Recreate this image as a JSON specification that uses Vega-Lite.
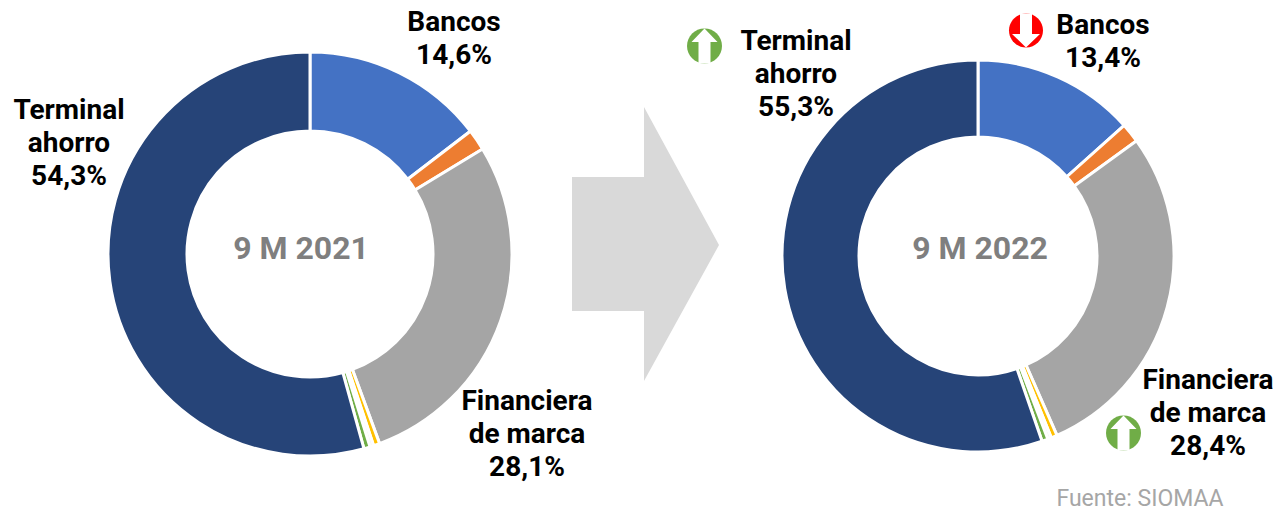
{
"$schema":"https://vega.github.io/schema/vega-lite/v6.json",
"width":1278,"height":511,
"autosize":{"type":"fit","contains":"padding"},
"padding":0,
"background":"white",
"view":{"stroke":null},
"config":{"text":{"font":"Roboto"}},
"datasets":{
"cuotas":[
{"periodo":"9 M 2021","segmento":"Bancos","orden":1,"cuota":14.6},
{"periodo":"9 M 2021","segmento":"Otros 1","orden":2,"cuota":1.7},
{"periodo":"9 M 2021","segmento":"Financiera de marca","orden":3,"cuota":28.1},
{"periodo":"9 M 2021","segmento":"Otros 2","orden":4,"cuota":0.5},
{"periodo":"9 M 2021","segmento":"Otros 3","orden":5,"cuota":0.3},
{"periodo":"9 M 2021","segmento":"Otros 4","orden":6,"cuota":0.5},
{"periodo":"9 M 2021","segmento":"Terminal ahorro","orden":7,"cuota":54.3},
{"periodo":"9 M 2022","segmento":"Bancos","orden":1,"cuota":13.4},
{"periodo":"9 M 2022","segmento":"Otros 1","orden":2,"cuota":1.6},
{"periodo":"9 M 2022","segmento":"Financiera de marca","orden":3,"cuota":28.4},
{"periodo":"9 M 2022","segmento":"Otros 2","orden":4,"cuota":0.5},
{"periodo":"9 M 2022","segmento":"Otros 3","orden":5,"cuota":0.3},
{"periodo":"9 M 2022","segmento":"Otros 4","orden":6,"cuota":0.5},
{"periodo":"9 M 2022","segmento":"Terminal ahorro","orden":7,"cuota":55.3}
],
"rotulos":[
{"periodo":"9 M 2021","clave":"T21","rotulo":"Terminal\nahorro\n54,3%"},
{"periodo":"9 M 2021","clave":"B21","rotulo":"Bancos\n14,6%"},
{"periodo":"9 M 2021","clave":"F21","rotulo":"Financiera\nde marca\n28,1%"},
{"periodo":"9 M 2022","clave":"T22","rotulo":"Terminal\nahorro\n55,3%"},
{"periodo":"9 M 2022","clave":"B22","rotulo":"Bancos\n13,4%"},
{"periodo":"9 M 2022","clave":"F22","rotulo":"Financiera\nde marca\n28,4%"},
{"periodo":"9 M 2021","clave":"C21","rotulo":"9 M 2021"},
{"periodo":"9 M 2022","clave":"C22","rotulo":"9 M 2022"},
{"periodo":"9 M 2022","clave":"N","rotulo":"Fuente: SIOMAA"}
],
"marcas":[
{"periodo":"flecha","clave":"flecha"},
{"periodo":"9 M 2022","clave":"T"},
{"periodo":"9 M 2022","clave":"B"},
{"periodo":"9 M 2022","clave":"F"}
]
},
"encoding":{
"x":{"field":"periodo","type":"nominal","axis":null,"scale":{"type":"point","domain":["9 M 2021","flecha","9 M 2022"],"range":[310,978],"padding":0}},
"y":{"field":"periodo","type":"nominal","axis":null,"scale":{"type":"point","domain":["9 M 2021","flecha","9 M 2022"],"range":[254,256],"padding":0}}
},
"layer":[
{"data":{"name":"cuotas"},"transform":[{"filter":"datum.periodo==='9 M 2021'"}],
"mark":{"type":"arc","outerRadius":202,"innerRadius":123,"stroke":"white","strokeWidth":3},
"encoding":{"theta":{"field":"cuota","type":"quantitative","stack":true,"scale":{"domain":[0,100]}},"order":{"field":"orden","type":"ordinal"},
"color":{"field":"segmento","type":"nominal","legend":null,"scale":{"domain":["Bancos","Otros 1","Financiera de marca","Otros 2","Otros 3","Otros 4","Terminal ahorro"],"range":["#4472c4","#ed7d31","#a5a5a5","#ffc000","#f4f4f4","#70ad47","#264478"]}}}},
{"data":{"name":"cuotas"},"transform":[{"filter":"datum.periodo==='9 M 2022'"}],
"mark":{"type":"arc","outerRadius":196,"innerRadius":119,"stroke":"white","strokeWidth":3},
"encoding":{"theta":{"field":"cuota","type":"quantitative","stack":true,"scale":{"domain":[0,100]}},"order":{"field":"orden","type":"ordinal"},
"color":{"field":"segmento","type":"nominal","legend":null}}},
{"data":{"name":"marcas"},"transform":[{"filter":"datum.clave==='flecha'"}],
"mark":{"type":"point","filled":true,"opacity":1,"size":4,"color":"#d9d9d9","shape":"M-72 -78 L0 -78 L0 -148 L75 -10 L0 126 L0 56 L-72 56 Z"}},
{"data":{"name":"marcas"},"transform":[{"filter":"datum.clave==='T'"}],
"mark":{"type":"point","filled":true,"opacity":1,"size":4,"color":"#70ad47","shape":"M-291 -210 A17.5 17.5 0 1 1 -256 -210 A17.5 17.5 0 1 1 -291 -210 Z"}},
{"data":{"name":"marcas"},"transform":[{"filter":"datum.clave==='T'"}],
"mark":{"type":"point","filled":true,"opacity":1,"size":4,"color":"white","shape":"M-273.5 -227.5 L-260.5 -214 L-267.5 -214 L-267.5 -192.5 L-279.5 -192.5 L-279.5 -214 L-286.5 -214 Z"}},
{"data":{"name":"marcas"},"transform":[{"filter":"datum.clave==='F'"}],
"mark":{"type":"point","filled":true,"opacity":1,"size":4,"color":"#70ad47","shape":"M128 177 A17.5 17.5 0 1 1 163 177 A17.5 17.5 0 1 1 128 177 Z"}},
{"data":{"name":"marcas"},"transform":[{"filter":"datum.clave==='F'"}],
"mark":{"type":"point","filled":true,"opacity":1,"size":4,"color":"white","shape":"M145.5 159.5 L158.5 173 L151.5 173 L151.5 194.5 L139.5 194.5 L139.5 173 L132.5 173 Z"}},
{"data":{"name":"marcas"},"transform":[{"filter":"datum.clave==='B'"}],
"mark":{"type":"point","filled":true,"opacity":1,"size":4,"color":"#ff0000","shape":"M31 -225.5 A17 17 0 1 1 65 -225.5 A17 17 0 1 1 31 -225.5 Z"}},
{"data":{"name":"marcas"},"transform":[{"filter":"datum.clave==='B'"}],
"mark":{"type":"point","filled":true,"opacity":1,"size":4,"color":"white","shape":"M48 -208.5 L62 -222 L54 -222 L54 -242.5 L42 -242.5 L42 -222 L34 -222 Z"}},
{"data":{"name":"rotulos"},"transform":[{"filter":"datum.clave==='T21'"}],"mark":{"type":"text","lineBreak":"\n","lineHeight":33,"fontSize":28,"fontWeight":"bold","baseline":"alphabetic","align":"center","color":"black","dx":-241,"dy":-135},"encoding":{"text":{"field":"rotulo"}}},
{"data":{"name":"rotulos"},"transform":[{"filter":"datum.clave==='B21'"}],"mark":{"type":"text","lineBreak":"\n","lineHeight":33,"fontSize":28,"fontWeight":"bold","baseline":"alphabetic","align":"center","color":"black","dx":144,"dy":-223},"encoding":{"text":{"field":"rotulo"}}},
{"data":{"name":"rotulos"},"transform":[{"filter":"datum.clave==='F21'"}],"mark":{"type":"text","lineBreak":"\n","lineHeight":33,"fontSize":28,"fontWeight":"bold","baseline":"alphabetic","align":"center","color":"black","dx":217,"dy":156},"encoding":{"text":{"field":"rotulo"}}},
{"data":{"name":"rotulos"},"transform":[{"filter":"datum.clave==='T22'"}],"mark":{"type":"text","lineBreak":"\n","lineHeight":33,"fontSize":28,"fontWeight":"bold","baseline":"alphabetic","align":"center","color":"black","dx":-182,"dy":-206},"encoding":{"text":{"field":"rotulo"}}},
{"data":{"name":"rotulos"},"transform":[{"filter":"datum.clave==='B22'"}],"mark":{"type":"text","lineBreak":"\n","lineHeight":33,"fontSize":28,"fontWeight":"bold","baseline":"alphabetic","align":"center","color":"black","dx":125,"dy":-222},"encoding":{"text":{"field":"rotulo"}}},
{"data":{"name":"rotulos"},"transform":[{"filter":"datum.clave==='F22'"}],"mark":{"type":"text","lineBreak":"\n","lineHeight":33,"fontSize":28,"fontWeight":"bold","baseline":"alphabetic","align":"center","color":"black","dx":230,"dy":133},"encoding":{"text":{"field":"rotulo"}}},
{"data":{"name":"rotulos"},"transform":[{"filter":"datum.clave==='C21'"}],"mark":{"type":"text","fontSize":32,"fontWeight":"bold","baseline":"middle","align":"center","color":"#7f7f7f","dx":-9,"dy":-5},"encoding":{"text":{"field":"rotulo"}}},
{"data":{"name":"rotulos"},"transform":[{"filter":"datum.clave==='C22'"}],"mark":{"type":"text","fontSize":32,"fontWeight":"bold","baseline":"middle","align":"center","color":"#7f7f7f","dx":2,"dy":-7},"encoding":{"text":{"field":"rotulo"}}},
{"data":{"name":"rotulos"},"transform":[{"filter":"datum.clave==='N'"}],"mark":{"type":"text","fontSize":23,"baseline":"alphabetic","align":"center","color":"#a6a6a6","dx":162,"dy":250},"encoding":{"text":{"field":"rotulo"}}}
]
}
